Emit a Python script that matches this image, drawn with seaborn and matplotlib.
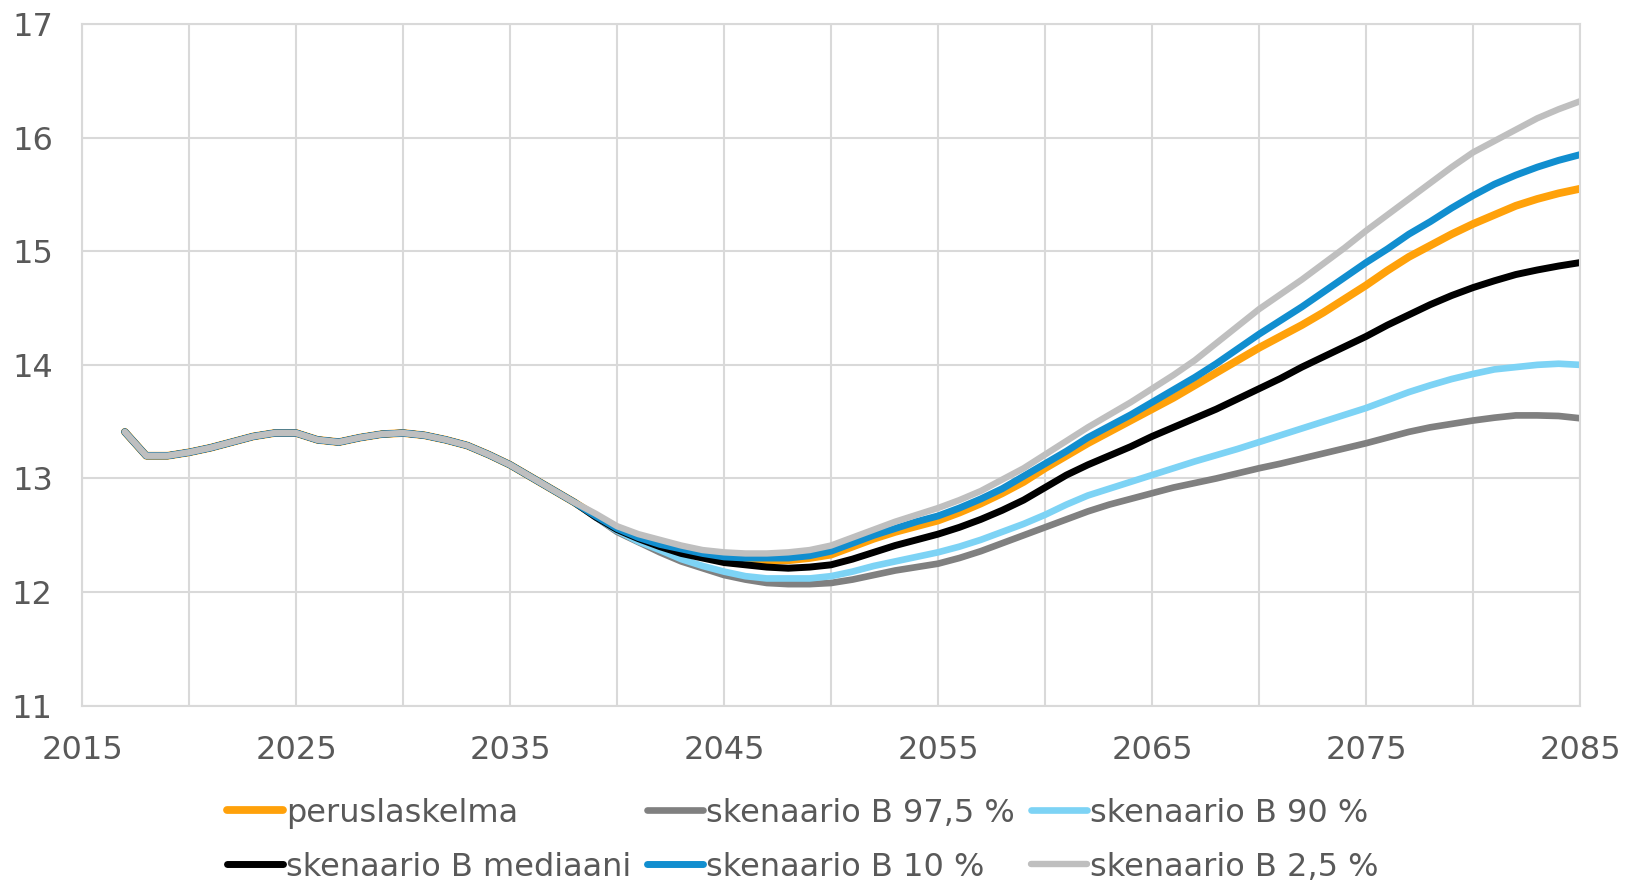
import matplotlib
matplotlib.use("Agg")
import matplotlib.pyplot as plt
import seaborn as sns
import pandas as pd

sns.set_theme(style="white")
plt.rcParams['font.family'] = ['DejaVu Sans']

years = list(range(2017, 2086))

# shared history 2017-2038
common = [13.41, 13.20, 13.20, 13.23, 13.27, 13.32, 13.37, 13.40, 13.40, 13.34,
          13.32, 13.36, 13.39, 13.40, 13.38, 13.34, 13.29, 13.21, 13.12, 13.01,
          12.90, 12.79]

# 2039-2085
perus_tail = [12.67, 12.56, 12.48, 12.42, 12.37, 12.33, 12.30, 12.29, 12.28, 12.28,
              12.30, 12.33, 12.40, 12.47, 12.53, 12.58, 12.63, 12.70, 12.78, 12.87,
              12.97, 13.09, 13.20, 13.31, 13.41, 13.51, 13.61, 13.71, 13.82, 13.93,
              14.04, 14.15, 14.25, 14.35, 14.46, 14.58, 14.70, 14.83, 14.95, 15.05,
              15.15, 15.24, 15.32, 15.40, 15.46, 15.51, 15.55]
b975_tail = [12.66, 12.53, 12.44, 12.35, 12.27, 12.21, 12.15, 12.11, 12.08, 12.07,
             12.07, 12.08, 12.11, 12.15, 12.19, 12.22, 12.25, 12.30, 12.36, 12.43,
             12.50, 12.57, 12.64, 12.71, 12.77, 12.82, 12.87, 12.92, 12.96, 13.00,
             13.045, 13.09, 13.13, 13.175, 13.22, 13.265, 13.31, 13.36, 13.41, 13.45,
             13.48, 13.51, 13.535, 13.555, 13.555, 13.55, 13.53]
b90_tail = [12.66, 12.54, 12.445, 12.37, 12.29, 12.23, 12.18, 12.14, 12.12, 12.12,
            12.12, 12.14, 12.18, 12.23, 12.27, 12.31, 12.35, 12.40, 12.46, 12.53,
            12.60, 12.68, 12.77, 12.85, 12.91, 12.97, 13.03, 13.09, 13.15, 13.205,
            13.26, 13.32, 13.38, 13.44, 13.50, 13.56, 13.62, 13.69, 13.76, 13.82,
            13.875, 13.92, 13.96, 13.98, 14.00, 14.01, 14.00]
bmed_tail = [12.66, 12.55, 12.47, 12.40, 12.34, 12.30, 12.26, 12.24, 12.22, 12.21,
             12.22, 12.24, 12.29, 12.35, 12.41, 12.46, 12.51, 12.57, 12.64, 12.72,
             12.81, 12.92, 13.03, 13.12, 13.20, 13.28, 13.37, 13.45, 13.53, 13.61,
             13.70, 13.79, 13.88, 13.98, 14.07, 14.16, 14.25, 14.35, 14.44, 14.53,
             14.61, 14.68, 14.74, 14.795, 14.835, 14.87, 14.90]
b10_tail = [12.67, 12.56, 12.48, 12.42, 12.38, 12.34, 12.31, 12.30, 12.30, 12.30,
            12.32, 12.36, 12.43, 12.50, 12.56, 12.62, 12.67, 12.74, 12.82, 12.91,
            13.02, 13.13, 13.24, 13.36, 13.46, 13.56, 13.67, 13.78, 13.89, 14.01,
            14.14, 14.27, 14.39, 14.51, 14.64, 14.77, 14.90, 15.02, 15.15, 15.26,
            15.38, 15.49, 15.59, 15.67, 15.74, 15.80, 15.85]
b25_tail = [12.69, 12.58, 12.51, 12.46, 12.41, 12.37, 12.35, 12.34, 12.34, 12.35,
            12.37, 12.41, 12.48, 12.55, 12.62, 12.68, 12.74, 12.81, 12.89, 12.99,
            13.09, 13.21, 13.33, 13.45, 13.56, 13.67, 13.79, 13.91, 14.04, 14.19,
            14.34, 14.49, 14.62, 14.75, 14.89, 15.03, 15.18, 15.32, 15.46, 15.60,
            15.74, 15.87, 15.97, 16.07, 16.17, 16.25, 16.32]

labels = ["peruslaskelma", "skenaario B 97,5 %", "skenaario B 90 %",
          "skenaario B mediaani", "skenaario B 10 %", "skenaario B 2,5 %"]
tails = [perus_tail, b975_tail, b90_tail, bmed_tail, b10_tail, b25_tail]
colors = ["#FFA10A", "#808080", "#7DD3F5", "#000000", "#118ECF", "#BFBFBF"]
widths = [5.6, 4.8, 4.8, 5.0, 5.0, 4.6]

x_ticks = [2015, 2025, 2035, 2045, 2055, 2065, 2075, 2085]
y_ticks = [11, 12, 13, 14, 15, 16, 17]

fig = plt.figure(figsize=(16.38, 8.83), dpi=100)
ax = fig.add_axes([0.0501, 0.2008, 0.9145, 0.772])

handles = {}
for lab, tail, col, lw in zip(labels, tails, colors, widths):
    df = pd.DataFrame({"vuosi": years, "arvo": common + tail})
    sns.lineplot(data=df, x="vuosi", y="arvo", color=col, linewidth=lw,
                 ax=ax, label=lab, solid_capstyle="round", solid_joinstyle="round")
    handles[lab] = ax.lines[-1]

ax.set_xlim(2015, 2085)
ax.set_ylim(11, 17)
ax.set_xticks(x_ticks)
ax.set_yticks(y_ticks)
ax.set_xticks(list(range(2015, 2086, 5)), minor=True)
ax.set_xlabel("")
ax.set_ylabel("")
ax.grid(True, which="both", axis="x", color="#D9D9D9", linewidth=1.5)
ax.grid(True, which="major", axis="y", color="#D9D9D9", linewidth=1.5)
ax.set_axisbelow(True)
for s in ax.spines.values():
    s.set_color("#D9D9D9")
    s.set_linewidth(1.5)
ax.tick_params(axis="both", which="both", length=0, labelsize=23, colors="#595959")
ax.tick_params(axis="y", pad=21)
ax.tick_params(axis="x", pad=21)

ax.get_legend().remove()
order = ["peruslaskelma", "skenaario B mediaani", "skenaario B 97,5 %",
         "skenaario B 10 %", "skenaario B 90 %", "skenaario B 2,5 %"]
leg = fig.legend([handles[o] for o in order], order, loc="center",
                 bbox_to_anchor=(0.49, 0.0485), ncol=3, frameon=False,
                 fontsize=23, handlelength=1.75, handletextpad=0.1,
                 columnspacing=0.5, labelspacing=0.72)
for t in leg.get_texts():
    t.set_color("#595959")

fig.savefig("out.png", dpi=100)
